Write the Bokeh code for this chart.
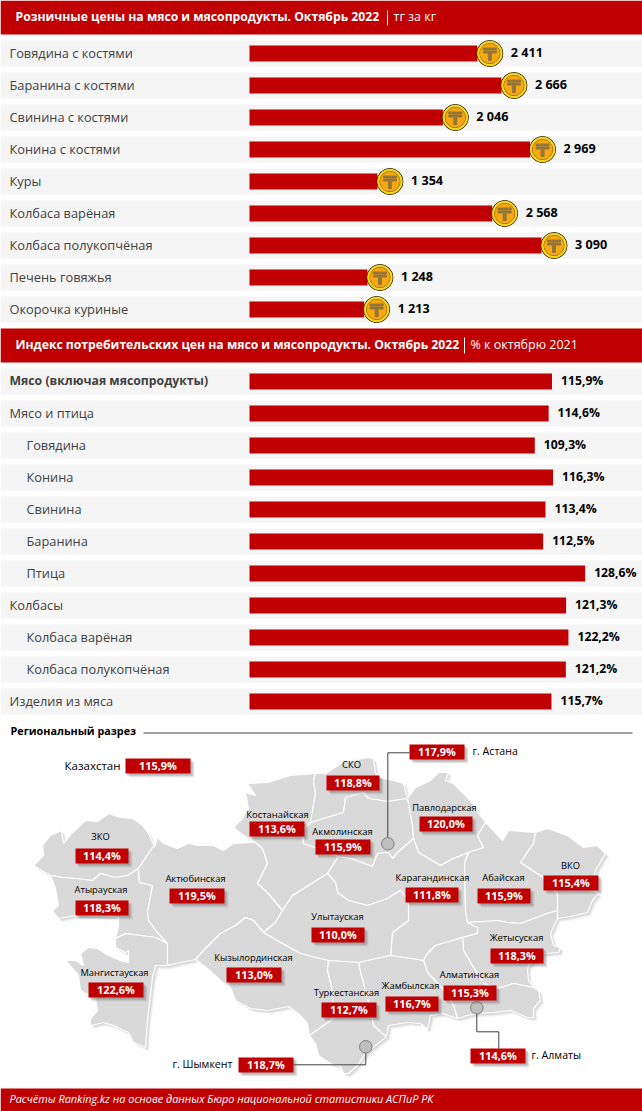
from bokeh.plotting import figure
from bokeh.models import Range1d
from bokeh.embed import file_html
from bokeh.resources import INLINE
from bokeh.core.properties import value

RED = "#c00000"
FONT = value("Open Sans")

price_labels = ["Говядина с костями", "Баранина с костями", "Свинина с костями", "Конина с костями", "Куры",
                "Колбаса варёная", "Колбаса полукопчёная", "Печень говяжья", "Окорочка куриные"]
price_values = [2411, 2666, 2046, 2969, 1354, 2568, 3090, 1248, 1213]
price_texts = ["2 411", "2 666", "2 046", "2 969", "1 354", "2 568", "3 090", "1 248", "1 213"]

index_labels = ["Мясо (включая мясопродукты)", "Мясо и птица", "Говядина", "Конина", "Свинина", "Баранина", "Птица",
                "Колбасы", "Колбаса варёная", "Колбаса полукопчёная", "Изделия из мяса"]
index_values = [115.9, 114.6, 109.3, 116.3, 113.4, 112.5, 128.6, 121.3, 122.2, 121.2, 115.7]
index_indent = [0, 0, 1, 1, 1, 1, 1, 0, 1, 1, 0]

# region name, value, label centre x, label y, badge left, badge right, badge top
region_names = ["ЗКО", "Атырауская", "Актюбинская", "Костанайская", "СКО", "Акмолинская", "Павлодарская",
                "Карагандинская", "Абайская", "ВКО", "Улытауская", "Жетысуская", "Кызылординская", "Мангистауская",
                "Туркестанская", "Жамбылская", "Алматинская"]
region_values = [114.4, 118.3, 119.5, 113.6, 118.8, 115.9, 120.0, 111.8, 115.9, 115.4, 110.0, 118.3, 113.0, 122.6,
                 112.7, 116.7, 115.3]
region_lx = [100, 100.5, 195, 277, 351, 342, 444, 432, 503, 570, 337, 516, 253, 114, 346, 410, 469]
region_ly = [837, 890, 879, 815, 765, 832, 808, 878, 878, 866, 917, 938, 958, 973, 993, 986, 975]
region_bl = [75, 75, 169, 249, 326, 315, 419, 405, 477, 543, 311, 490, 226, 88, 321, 385, 443]
region_br = [128, 128, 224, 304, 379, 370, 472, 458, 530, 598, 364, 543, 281, 143, 376, 438, 496]
region_bt = [848, 900, 888, 821, 775, 839, 816, 887, 888, 875, 927, 948, 967, 982, 1002, 996, 985]

city_names = ["Казахстан", "г. Астана", "г. Шымкент", "г. Алматы"]
city_values = [115.9, 117.9, 118.7, 114.6]
city_bl = [125, 409, 238, 470]
city_br = [190, 464, 293, 525]
city_bt = [758, 744, 1057, 1048]
city_tx = [120, 472, 232, 531]
city_align = ["right", "left", "right", "left"]
city_size = ["11.5px", "10.6px", "10.6px", "10.6px"]

zko = [(33,865),(43,855),(42,845),(50,835),(61,830),(63,843),(71,833),(85,820),(97,821),(108,813),(120,817),(132,818),
       (142,825),(148,833),(154,846),(152,847),(138,868),(127,875),(115,877),(100,873),(92,880),(75,878),(63,877),(50,875),(38,868)]
atyrau = [(50,875),(63,877),(75,878),(92,880),(100,873),(115,877),(127,875),(138,868),(139,882),(152,885),(148,907),(147,910),
          (148,920),(157,932),(167,943),(155,937),(140,935),(125,933),(115,938),(118,925),(118,917),(113,916),(75,915),(58,918),
          (52,910),(58,905),(55,888)]
mangystau = [(115,938),(125,933),(140,935),(155,937),(167,943),(167,965),(155,965),(152,977),(147,1020),(145,1047),(133,1042),
             (128,1032),(113,1025),(103,1022),(90,1025),(90,1018),(97,1010),(95,998),(80,990),(78,975),(65,960),(75,960),(83,965),
             (80,953),(88,947),(97,948),(108,955),(120,960),(128,962),(128,950),(125,952),(115,947)]
aktobe = [(154,846),(157,837),(163,843),(177,848),(188,843),(197,845),(213,845),(223,850),(233,843),(250,842),(255,842),(262,848),
          (267,863),(257,883),(268,893),(282,910),(275,922),(263,932),(253,920),(245,917),(235,925),(220,933),(205,948),(195,959),
          (180,962),(167,965),(167,943),(157,932),(148,920),(147,910),(148,907),(152,885),(139,882),(138,868),(152,847)]
kostanay = [(255,842),(262,848),(267,863),(257,883),(268,893),(282,910),(292,895),(327,873),(338,856),(315,847),(303,843),(302,830),
            (310,822),(315,793),(313,780),(315,773),(290,775),(267,782),(247,783),(255,795),(245,792),(248,808),(242,818),(233,827),
            (243,835)]
sko = [(315,773),(325,773),(342,762),(367,757),(373,758),(375,773),(382,778),(393,780),(403,783),(407,798),(387,801),(368,798),
       (363,792),(345,797),(343,812),(310,822),(315,793),(313,780)]
akmola = [(310,822),(343,812),(345,797),(363,792),(368,798),(387,801),(407,798),(408,803),(412,825),(413,838),(397,852),(392,858),
          (388,852),(377,853),(372,866),(350,858),(338,856),(315,847),(303,843),(302,830)]
pavlodar = [(407,798),(415,787),(430,780),(438,772),(448,772),(445,780),(453,783),(470,800),(478,813),(485,822),(477,835),(483,847),
            (468,852),(453,858),(440,865),(418,852),(413,838),(412,825),(408,803)]
karaganda = [(327,873),(338,856),(350,858),(372,866),(377,853),(388,852),(392,858),(397,852),(413,838),(418,852),(440,865),(453,858),
             (468,852),(464,863),(465,910),(467,922),(477,927),(477,933),(462,937),(435,945),(427,953),(423,960),(390,955),(392,932),
             (408,920),(408,900),(400,890),(387,898),(367,905),(348,900),(337,892),(335,882)]
ulytau = [(282,910),(292,895),(327,873),(335,882),(337,892),(348,900),(367,905),(387,898),(400,890),(408,900),(408,920),(392,932),
          (390,955),(358,962),(328,960),(315,957),(300,953),(280,942),(263,932),(275,922)]
abai = [(467,922),(498,920),(507,922),(520,923),(547,913),(557,910),(557,893),(543,877),(520,862),(533,843),(535,832),(508,830),
        (502,840),(493,830),(485,822),(477,835),(483,847),(468,852),(464,863),(465,910)]
vko = [(535,832),(547,828),(567,835),(583,847),(597,845),(605,853),(595,870),(590,890),(598,893),(592,900),(587,912),(570,916),
       (557,918),(557,893),(543,877),(520,862),(533,843)]
zhetysu = [(467,922),(498,920),(507,922),(520,923),(547,913),(557,910),(557,918),(550,933),(553,945),(560,947),(558,952),(543,953),
           (528,965),(527,970),(528,980),(533,987),(513,983),(497,988),(483,983),(473,967),(463,950),(462,937),(477,933),(477,927)]
almaty = [(427,953),(435,945),(462,937),(463,950),(473,967),(483,983),(497,988),(513,983),(533,987),(538,990),(540,1000),(533,1008),
          (533,1017),(527,1017),(510,1010),(493,1012),(477,1013),(467,1015),(457,1018),(453,1005),(442,988),(427,972),(423,960)]
zhambyl = [(358,962),(390,955),(423,960),(427,972),(442,988),(453,1005),(457,1018),(442,1013),(430,1015),(427,1029),(420,1023),
           (407,1022),(388,1025),(386,1036),(382,1033),(373,1025),(370,1010),(365,990),(360,972)]
kyzylorda = [(195,959),(205,948),(220,933),(235,925),(245,917),(253,920),(263,932),(280,942),(300,953),(315,957),(328,960),(327,970),
             (332,990),(333,1018),(309,1035),(307,1023),(298,1013),(288,1006),(267,1010),(250,1008),(235,1000),(230,987),(222,982),(207,968)]
turkestan = [(328,960),(358,962),(360,972),(365,990),(370,1010),(373,1025),(382,1033),(386,1036),(375,1045),(365,1053),(357,1065),
             (348,1073),(343,1073),(340,1066),(330,1063),(318,1055),(315,1043),(309,1035),(333,1018),(332,990),(327,970)]
map_shapes = [zko, atyrau, mangystau, aktobe, kostanay, sko, akmola, pavlodar, karaganda, ulytau, abai, vko, zhetysu, almaty,
              zhambyl, kyzylorda, turkestan]

p = figure(width=642, height=1111, x_range=Range1d(0, 642), y_range=Range1d(1111, 0), x_axis_type=None, y_axis_type=None,
           output_backend="svg", toolbar_location=None, min_border=0, outline_line_color=None,
           background_fill_color="white", border_fill_color="white",
           styles={"position": "absolute", "left": "0px", "top": "0px"})
p.grid.visible = False

PX_PRICE = 0.0945
PX_INDEX = 2.61
p.extra_x_ranges["price"] = Range1d(-249 / PX_PRICE, (642 - 249) / PX_PRICE)
p.extra_x_ranges["coin"] = Range1d(-261.5 / PX_PRICE, (642 - 261.5) / PX_PRICE)
p.extra_x_ranges["index"] = Range1d(-249 / PX_INDEX, (642 - 249) / PX_INDEX)

def txt(x, y, t, size, color="black", bold=False, italic=False, align="left", x_offset=-1, **kw):
    style = "bold" if bold else ("italic" if italic else "normal")
    p.text(x=x, y=y, text=t, text_font=FONT, text_font_size=size, text_color=color, text_font_style=style,
           text_align=align, text_baseline="middle", x_offset=x_offset, y_offset=-1, **kw)

# headers and footer
p.quad(left=[0, 0, 0], right=[642, 642, 642], top=[0, 328, 1088], bottom=[34, 362, 1111], color=RED, line_color=None)
txt([16], [17], ["Розничные цены на мясо и мясопродукты. Октябрь 2022"], "12.2px", "white", bold=True)
p.segment([387], [10], [387], [25], line_color="white", line_width=1)
txt([394], [17], ["тг за кг"], "12.5px", "white")
txt([16], [345], ["Индекс потребительских цен на мясо и мясопродукты. Октябрь 2022"], "12.2px", "white", bold=True)
p.segment([464], [337], [464], [353], line_color="white", line_width=1)
txt([471], [345], ["% к октябрю 2021"], "12.5px", "white")
txt([10], [1099], ["Расчёты Ranking.kz на основе данных Бюро национальной статистики АСПиР РК"], "10.9px", "white", italic=True)

# first panel
y1 = [53 + 32 * i for i in range(len(price_values))]
p.hbar(y=y1, left=0, right=[642] * len(y1), height=26, color="#f5f5f5", line_color=None)
p.hbar(y=y1, left=0, right=price_values, height=16, color=RED, line_color=None, x_range_name="price")
txt([10] * len(y1), y1, price_labels, "12.8px", "#404040")
p.scatter(x=price_values, y=y1, size=26, color="#3d3000", x_range_name="coin")
p.scatter(x=price_values, y=y1, size=24.5, color="#f5d428", x_range_name="coin")
p.scatter(x=price_values, y=y1, size=20, color="#7a5a00", x_range_name="coin")
p.scatter(x=price_values, y=y1, size=19, color="#f9a80f", x_range_name="coin")
brown = "#94763a"
p.rect(x=price_values, y=[v - 4.5 for v in y1], width=13, height=2, width_units="screen", height_units="screen",
       color=brown, x_range_name="coin")
p.rect(x=price_values, y=[v - 1.5 for v in y1], width=13, height=2, width_units="screen", height_units="screen",
       color=brown, x_range_name="coin")
p.rect(x=price_values, y=[v + 2.5 for v in y1], width=3, height=9, width_units="screen", height_units="screen",
       color=brown, x_range_name="coin")
txt(price_values, y1, price_texts, "12.6px", "black", bold=True, x_range_name="coin", x_offset=21)

# second panel
y2 = [381 + 32 * i for i in range(len(index_values))]
p.hbar(y=y2, left=0, right=[642] * len(y2), height=26, color="#f5f5f5", line_color=None)
p.hbar(y=y2, left=0, right=index_values, height=16, color=RED, line_color=None, x_range_name="index")
for i, (lab, ind) in enumerate(zip(index_labels, index_indent)):
    txt([27 if ind else 10], [y2[i]], [lab], "12.25px" if i == 0 else "12.8px", "#404040", bold=(i == 0))
txt(index_values, y2, [f"{v:.1f}%".replace(".", ",") for v in index_values], "12.2px", "black", bold=True,
    x_range_name="index", x_offset=9)

# regional section
txt([11], [731], ["Региональный разрез"], "10.8px", "black", bold=True)
p.segment([143], [732.5], [632], [732.5], line_color="#404040", line_width=1)

xs = [[pt[0] for pt in s] for s in map_shapes]
ys = [[pt[1] for pt in s] for s in map_shapes]
for d, a in ((4, 0.06), (3, 0.10), (2, 0.16)):
    p.patches([[x + d for x in s] for s in xs], [[y + d for y in s] for s in ys], color="#808080", alpha=a, line_color=None)
p.patches(xs, ys, fill_color="#d9d9d9", line_color="white", line_width=1.2)

# leaders
p.line([387.3, 387.3, 409], [843, 752.3, 752.3], line_color="#404040", line_width=1)
p.line([476.3, 476.3, 498.3, 498.3], [1007, 1031.3, 1031.3, 1048], line_color="#404040", line_width=1)
p.line([365.3, 365.3, 293], [1046, 1064.3, 1064.3], line_color="#404040", line_width=1)
p.scatter([387.3, 476.3, 365.3], [843.3, 1007.3, 1046.3], size=12.5, fill_color="#bfbfbf", line_color="#7f7f7f", line_width=1)

# badges
bl = region_bl + city_bl
br = region_br + city_br
bt = region_bt + city_bt
vals = region_values + city_values
for d, a in ((4, 0.10), (3, 0.16), (2, 0.24)):
    p.quad(left=[v + d for v in bl], right=[v + d for v in br], top=[v + d for v in bt], bottom=[v + 15 + d for v in bt],
           color="#606060", alpha=a, line_color=None)
p.quad(left=bl, right=br, top=bt, bottom=[v + 15 for v in bt], color=RED, line_color=None)
txt([(a + b) / 2 for a, b in zip(bl, br)], [v + 7.5 for v in bt], [f"{v:.1f}%".replace(".", ",") for v in vals], "10.9px", "white",
    bold=True, align="center", x_offset=0)
txt(region_lx, region_ly, region_names, "9.4px", "black", align="center", x_offset=0)
for x, y, n, al, sz in zip(city_tx, city_bt, city_names, city_align, city_size):
    txt([x], [y + 7.5], [n], sz, "black", align=al, x_offset=0)

open("out.html", "w").write(file_html(p, INLINE))
